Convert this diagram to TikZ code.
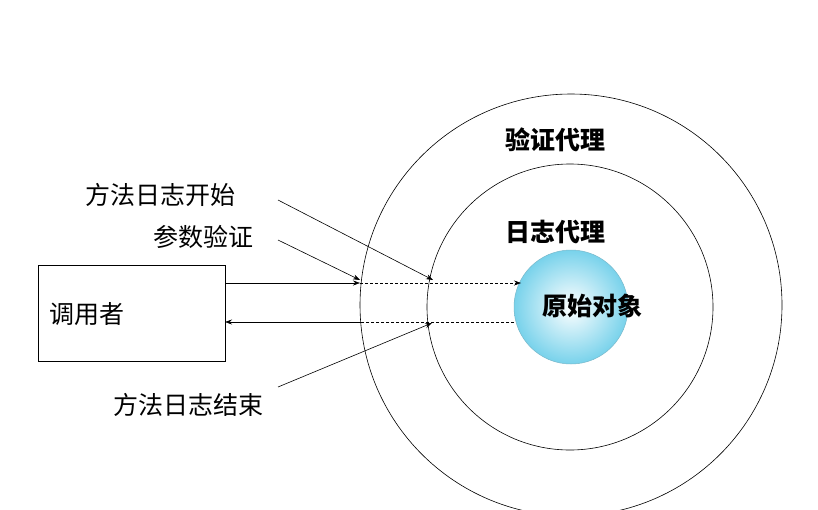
\documentclass[tikz,border=0pt]{standalone}
\usepackage{fontspec}
\newfontfamily\cjk{Noto Sans CJK SC}
\usetikzlibrary{arrows.meta}
\definecolor{skyb}{RGB}{120,210,235}
\begin{document}
\begin{tikzpicture}[x=1pt,y=-1pt,
  lbl/.style={font=\cjk\fontsize{25}{28}\selectfont,inner sep=0},
  blbl/.style={font=\cjk\bfseries\fontsize{25}{28}\selectfont,inner sep=0},
  arr/.style={-{Stealth[length=7pt,width=5pt]},line width=0.6pt},
  darr/.style={-{Stealth[length=7pt,width=5pt]},line width=0.6pt,dash pattern=on 3pt off 2pt}]
\useasboundingbox (0,0) rectangle (818,509);
\begin{scope}
\clip (0,0) rectangle (818,509);
\draw[line width=0.6pt] (571,305) circle (211);
\end{scope}
\draw[line width=0.6pt] (570,307) circle (143);
\shade[inner color=white,outer color=skyb,draw=skyb!70!gray,line width=0.5pt] (571,307) circle (57);
\node[draw,line width=0.6pt,minimum width=187pt,minimum height=96pt,inner sep=0] (caller) at (131.5,313) {};
\node[lbl] (tc) at (87,314) {调用者};
\node[lbl] (t1) at (160,195) {方法日志开始};
\node[lbl] (t2) at (203,237) {参数验证};
\node[lbl] (t3) at (188,405) {方法日志结束};
\node[blbl] (v) at (555,140) {验证代理};
\node[blbl] (r) at (555,232) {日志代理};
\node[blbl] (o) at (592,306) {原始对象};
\coordinate (a0) at (225,283);
\coordinate (a1) at (360,283);
\coordinate (a2) at (521,283);
\coordinate (b0) at (514,322);
\coordinate (b1) at (362,322);
\coordinate (b2) at (225,322);
\coordinate (s1) at (278,200);
\coordinate (e1) at (433,280);
\coordinate (s2) at (278,240);
\coordinate (e2) at (360,280);
\coordinate (s3) at (278,387);
\coordinate (e3) at (432,323);
\draw[arr] (a0) -- (a1);
\draw[darr] (a1) -- (a2);
\draw[line width=0.6pt,dash pattern=on 3pt off 2pt] (b0) -- (b1);
\draw[arr] (b1) -- (b2);
\draw[arr] (s1) -- (e1);
\draw[arr] (s2) -- (e2);
\draw[arr] (s3) -- (e3);
\end{tikzpicture}
\end{document}
